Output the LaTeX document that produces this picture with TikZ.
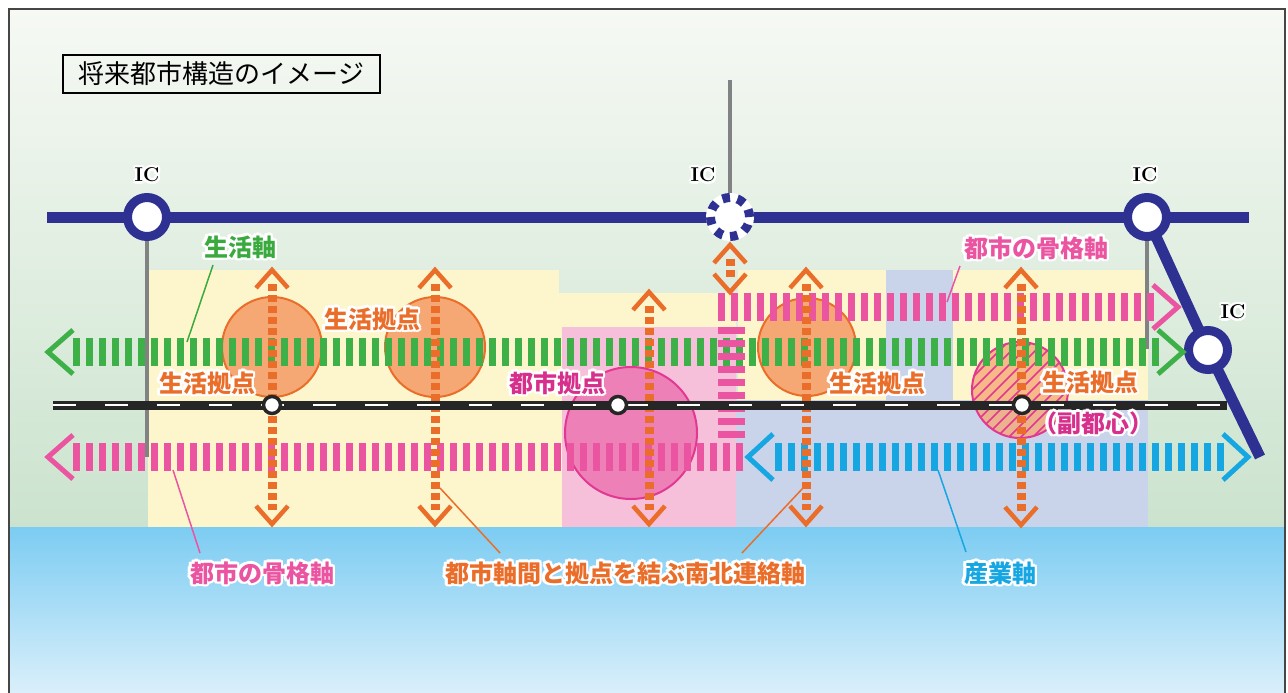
\documentclass[tikz,border=0pt]{standalone}
\usepackage{fontspec}
\newfontfamily\jp{Noto Sans CJK JP}
\usetikzlibrary{calc}
\definecolor{navy}{RGB}{46,49,146}
\definecolor{bgtop}{RGB}{246,249,244}
\definecolor{bgbot}{RGB}{203,227,206}
\definecolor{seatop}{RGB}{124,204,242}
\definecolor{seabot}{RGB}{222,241,251}
\definecolor{yel}{RGB}{253,246,204}
\definecolor{lav}{RGB}{201,211,234}
\definecolor{pinkz}{RGB}{246,192,218}
\definecolor{gbar}{RGB}{62,176,72}
\definecolor{pbar}{RGB}{234,84,160}
\definecolor{cbar}{RGB}{22,166,226}
\definecolor{orng}{RGB}{234,110,42}
\definecolor{orfill}{RGB}{246,168,116}
\definecolor{pkfill}{RGB}{238,128,184}
\definecolor{pkline}{RGB}{226,56,146}
\definecolor{magtxt}{RGB}{214,48,140}
\definecolor{gtxt}{RGB}{58,170,62}
\definecolor{grayln}{RGB}{128,130,132}
\definecolor{framec}{RGB}{70,70,70}
\definecolor{roadc}{RGB}{38,38,38}
\newcommand\hlabel[5][lbl]{%
  \foreach \ang in {0,30,...,330}{\node[#1,text=white] at ($(#3)+(\ang:2.4pt)$) {#5};}
  \node[#1,text=#4] (#2) at (#3) {#5};}
\begin{document}
\begin{tikzpicture}[x=1pt,y=-1pt,
  lbl/.style={font=\jp\bfseries\fontsize{24}{24}\selectfont, inner sep=0pt},
  iclbl/.style={font=\bfseries\fontsize{20}{20}\selectfont, inner sep=0pt},
  bars/.style={line width=28pt, dash pattern=on 7pt off 6pt},
  chev/.style={line width=5pt, line cap=butt, line join=miter},
  nsline/.style={draw=orng, line width=9pt, dash pattern=on 6.5pt off 4.5pt},
  nschev/.style={draw=orng, line width=4.5pt, line cap=butt, line join=miter},
  hwy/.style={draw=navy, line width=11pt, line join=miter},
  ic/.style={circle, draw=navy, line width=9pt, fill=white, minimum size=39pt, inner sep=0pt},
  grayline/.style={draw=grayln, line width=4pt},
  rnode/.style={circle, draw=roadc, line width=3.5pt, fill=white, minimum size=17pt, inner sep=0pt},
  leader/.style={line width=1.5pt},
  base/.style={circle, inner sep=0pt, line width=2pt}]
\useasboundingbox (0,0) rectangle (1288,693);
\fill[white] (0,0) rectangle (1288,693);
% backgrounds
\shade[top color=bgtop, bottom color=bgbot] (9,9) rectangle (1285,527);
\shade[top color=seatop, bottom color=seabot] (9,527) rectangle (1285,700);
% land-use zones
\fill[yel] (148,270) rectangle (559,527);
\fill[yel] (559,293) rectangle (736,527);
\fill[yel] (738,270) rectangle (886,400);
\fill[lav] (736,400) rectangle (1148,527);
\fill[lav] (886,270) rectangle (953,400);
\fill[yel] (953,270) rectangle (1148,400);
\fill[pinkz] (562,327) rectangle (736,527);
% title
\node[draw=black, line width=2.5pt, minimum width=317pt, minimum height=38pt, inner sep=0pt,
      font=\jp\fontsize{26}{26}\selectfont] (title) at (221.5,74) {将来都市構造のイメージ};
% highway coordinates
\coordinate (cL) at (147,217);
\coordinate (cM) at (730,217);
\coordinate (cR1) at (1147,217);
\coordinate (cR2) at (1208,350);
\coordinate (hwL) at (47,217);
\coordinate (hwR) at (1249,217);
\coordinate (hwE) at (1260,457);
\coordinate (gTop) at (730,80);
\coordinate (gLb) at (147,457);
\coordinate (gRb) at (1147,349);
% gray access roads
\draw[grayline] (cM) -- (gTop);
\draw[grayline] (cL) -- (gLb);
\draw[grayline] (cR1) -- (gRb);
% highway
\draw[hwy] (hwL) -- (hwR);
\draw[hwy] (cR1) -- (cR2) -- (hwE);
\node[ic] (icL) at (cL) {};
\node[ic, draw=white] (icM) at (cM) {};
\draw[navy, line width=9pt, dash pattern=on 7.7pt off 7.6pt] (cM) circle (19.5pt);
\node[ic] (icR1) at (cR1) {};
\node[ic] (icR2) at (cR2) {};
\hlabel[iclbl]{icLl}{147,175}{black}{IC}
\hlabel[iclbl]{icMl}{703,175}{black}{IC}
\hlabel[iclbl]{icR1l}{1145,175}{black}{IC}
\hlabel[iclbl]{icR2l}{1233,312}{black}{IC}
% bases (circles)
\node[base, draw=orng, fill=orfill, minimum size=100pt] (s1) at (272,347) {};
\node[base, draw=orng, fill=orfill, minimum size=100pt] (s2) at (435,347) {};
\node[base, draw=orng, fill=orfill, minimum size=98pt] (s3) at (807,347) {};
\node[base, draw=pkline, fill=pkfill, minimum size=132pt] (toshi) at (631,433) {};
\node[base, fill=orfill, fill opacity=0.78, minimum size=96pt] (fuku) at (1020,390) {};
\begin{scope}
  \clip (1020,390) circle (48pt);
  \foreach \k in {-132,-120,...,132}
    \draw[pkline, line width=1.5pt] ($(fuku)+(\k,0)+(-60,60)$) -- ($(fuku)+(\k,0)+(60,-60)$);
\end{scope}
\draw[pkline, line width=2pt] (1020,390) circle (48pt);
% axis coordinates
\coordinate (gL) at (48,352);
\coordinate (gR) at (1183,352);
\coordinate (pUs) at (718,307);
\coordinate (pUR) at (1178,307);
\coordinate (pVt) at (731,327);
\coordinate (pVb) at (731,441);
\coordinate (pL) at (48,457);
\coordinate (pLe) at (745,457);
\coordinate (bL) at (748,457);
\coordinate (bR) at (1248,457);
% green living axis
\draw[bars, gbar] ($(gL)+(25,0)$) -- ($(gR)+(-23,0)$);
\draw[chev, gbar] ($(gL)+(25,-22)$) -- (gL) -- ($(gL)+(25,22)$);
\draw[chev, gbar] ($(gR)+(-25,-22)$) -- (gR) -- ($(gR)+(-25,22)$);
% pink skeleton axes
\draw[bars, pbar] (pUs) -- ($(pUR)+(-22,0)$);
\draw[chev, pbar] ($(pUR)+(-25,-22)$) -- (pUR) -- ($(pUR)+(-25,22)$);
\draw[pbar, line width=27pt, dash pattern=on 7pt off 6pt] (pVt) -- (pVb);
\draw[bars, pbar] ($(pL)+(25,0)$) -- (pLe);
\draw[chev, pbar] ($(pL)+(25,-22)$) -- (pL) -- ($(pL)+(25,22)$);
% cyan industry axis
\draw[bars, cbar] ($(bL)+(27,0)$) -- ($(bR)+(-24,0)$);
\draw[chev, cbar] ($(bL)+(25,-23)$) -- (bL) -- ($(bL)+(25,23)$);
\draw[chev, cbar] ($(bR)+(-25,-23)$) -- (bR) -- ($(bR)+(-25,23)$);
% north-south connecting axes
\foreach \i/\x/\t/\b in {1/272/270/524,2/435/270/524,3/649/292/524,4/730/245/292,5/806/270/524,6/1021/270/525}{
  \coordinate (nst\i) at (\x,\t);
  \coordinate (nsb\i) at (\x,\b);
  \draw[nsline] ($(nst\i)+(0,14)$) -- ($(nsb\i)+(0,-14)$);
  \draw[nschev] ($(nst\i)+(-16,18)$) -- (nst\i) -- ($(nst\i)+(16,18)$);
  \draw[nschev] ($(nsb\i)+(-16,-18)$) -- (nsb\i) -- ($(nsb\i)+(16,-18)$);
}
% road
\coordinate (rdL) at (53,405);
\coordinate (rdR) at (1227,405);
\draw[roadc, line width=9pt] (rdL) -- (rdR);
\draw[white, line width=2.5pt, dash pattern=on 23pt off 29pt] (rdL) -- (rdR);
\node[rnode] (r1) at (272,405) {};
\node[rnode] (r2) at (618,405) {};
\node[rnode] (r3) at (1022,405) {};
% labels
\hlabel{lJiku}{240,247}{gtxt}{生活軸}
\hlabel{lS1}{372,319}{orng}{生活拠点}
\hlabel{lS2}{207,383}{orng}{生活拠点}
\hlabel{lToshi}{557,383}{magtxt}{都市拠点}
\hlabel{lS3}{877,383}{orng}{生活拠点}
\hlabel{lS4}{1090,382}{orng}{生活拠点}
\hlabel{lFuku}{1093,423}{magtxt}{（副都心）}
\hlabel{lK1}{1036,248}{pbar}{都市の骨格軸}
\hlabel{lK2}{262,573}{pbar}{都市の骨格軸}
\hlabel{lNS}{625,573}{orng}{都市軸間と拠点を結ぶ南北連絡軸}
\hlabel{lSan}{1000,573}{cbar}{産業軸}
% leader lines
\coordinate (aJ1) at (213,265); \coordinate (aJ2) at (187,342);
\coordinate (aK1) at (960,266); \coordinate (aK2) at (947,302);
\coordinate (aK3) at (173,470); \coordinate (aK4) at (200,553);
\coordinate (aN1) at (440,488); \coordinate (aN2) at (500,553);
\coordinate (aN3) at (803,488); \coordinate (aN4) at (742,553);
\coordinate (aS1) at (938,470); \coordinate (aS2) at (966,552);
\draw[leader, gtxt] (aJ1) -- (aJ2);
\draw[leader, pbar] (aK1) -- (aK2);
\draw[leader, pbar] (aK3) -- (aK4);
\draw[leader, orng] (aN1) -- (aN2);
\draw[leader, orng] (aN3) -- (aN4);
\draw[leader, cbar] (aS1) -- (aS2);
% frame
\draw[framec, line width=2.5pt] (9,9) rectangle (1285,720);
\end{tikzpicture}
\end{document}
